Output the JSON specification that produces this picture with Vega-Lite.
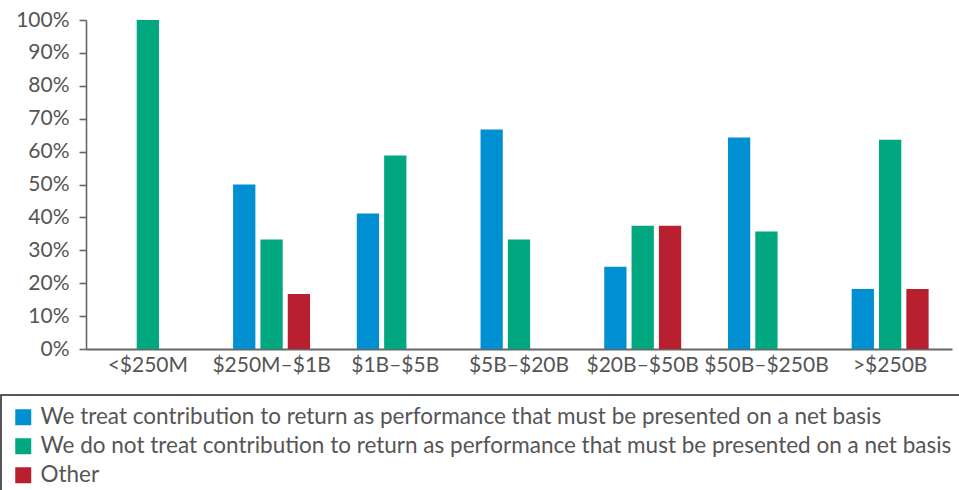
{
  "$schema": "https://vega.github.io/schema/vega-lite/v6.json",
  "width": 866,
  "height": 329,
  "autosize": {"type": "none"},
  "padding": {"left": 86, "top": 20, "right": 7, "bottom": 141},
  "background": "white",
  "config": {
    "view": {"stroke": null},
    "font": "Lato",
    "axis": {"labelFont": "Lato", "labelColor": "#555555", "labelFontSize": 21, "domainColor": "#666666", "domainWidth": 1.6, "tickColor": "#666666", "tickWidth": 1.6, "grid": false, "title": null},
    "legend": {"labelFont": "Lato", "labelColor": "#555555", "labelFontSize": 22.5}
  },
  "data": {
    "values": [
      {"aum": "<$250M", "answer": "We treat contribution to return as performance that must be presented on a net basis", "pct": 0},
      {"aum": "<$250M", "answer": "We do not treat contribution to return as performance that must be presented on a net basis", "pct": 100},
      {"aum": "$250M–$1B", "answer": "We treat contribution to return as performance that must be presented on a net basis", "pct": 50},
      {"aum": "$250M–$1B", "answer": "We do not treat contribution to return as performance that must be presented on a net basis", "pct": 33.3},
      {"aum": "$250M–$1B", "answer": "Other", "pct": 16.7},
      {"aum": "$1B–$5B", "answer": "We treat contribution to return as performance that must be presented on a net basis", "pct": 41.2},
      {"aum": "$1B–$5B", "answer": "We do not treat contribution to return as performance that must be presented on a net basis", "pct": 58.8},
      {"aum": "$5B–$20B", "answer": "We treat contribution to return as performance that must be presented on a net basis", "pct": 66.7},
      {"aum": "$5B–$20B", "answer": "We do not treat contribution to return as performance that must be presented on a net basis", "pct": 33.3},
      {"aum": "$20B–$50B", "answer": "We treat contribution to return as performance that must be presented on a net basis", "pct": 25},
      {"aum": "$20B–$50B", "answer": "We do not treat contribution to return as performance that must be presented on a net basis", "pct": 37.5},
      {"aum": "$20B–$50B", "answer": "Other", "pct": 37.5},
      {"aum": "$50B–$250B", "answer": "We treat contribution to return as performance that must be presented on a net basis", "pct": 64.3},
      {"aum": "$50B–$250B", "answer": "We do not treat contribution to return as performance that must be presented on a net basis", "pct": 35.7},
      {"aum": ">$250B", "answer": "We treat contribution to return as performance that must be presented on a net basis", "pct": 18.2},
      {"aum": ">$250B", "answer": "We do not treat contribution to return as performance that must be presented on a net basis", "pct": 63.6},
      {"aum": ">$250B", "answer": "Other", "pct": 18.2}
    ]
  },
  "mark": {"type": "bar"},
  "encoding": {
    "x": {
      "field": "aum",
      "type": "nominal",
      "sort": ["<$250M", "$250M–$1B", "$1B–$5B", "$5B–$20B", "$20B–$50B", "$50B–$250B", ">$250B"],
      "scale": {"paddingInner": 0.378, "paddingOuter": 0.189},
      "axis": {"labelAngle": 0, "ticks": false, "labelPadding": 5, "domainWidth": 2}
    },
    "xOffset": {
      "field": "answer",
      "type": "nominal",
      "scale": {
        "domain": ["We treat contribution to return as performance that must be presented on a net basis", "We do not treat contribution to return as performance that must be presented on a net basis", "Other"],
        "paddingInner": 0.185,
        "paddingOuter": 0
      }
    },
    "y": {
      "field": "pct",
      "type": "quantitative",
      "scale": {"domain": [0, 100], "nice": false},
      "axis": {"values": [0, 10, 20, 30, 40, 50, 60, 70, 80, 90, 100], "labelExpr": "datum.value + '%'", "tickSize": 7, "labelPadding": 10}
    },
    "color": {
      "field": "answer",
      "type": "nominal",
      "scale": {
        "domain": ["We treat contribution to return as performance that must be presented on a net basis", "We do not treat contribution to return as performance that must be presented on a net basis", "Other"],
        "range": ["#0090D2", "#00A77F", "#B8202F"]
      },
      "legend": {
        "title": null,
        "orient": "none",
        "legendX": -85,
        "legendY": 375,
        "direction": "vertical",
        "symbolType": "square",
        "symbolSize": 256,
        "symbolStrokeWidth": 0,
        "labelLimit": 2000,
        "labelOffset": 6,
        "rowPadding": 6,
        "padding": 11,
        "strokeColor": "#222222",
        "fillColor": "white",
        "encode": {"legend": {"update": {"strokeWidth": {"value": 1.5}}}}
      }
    }
  }
}
